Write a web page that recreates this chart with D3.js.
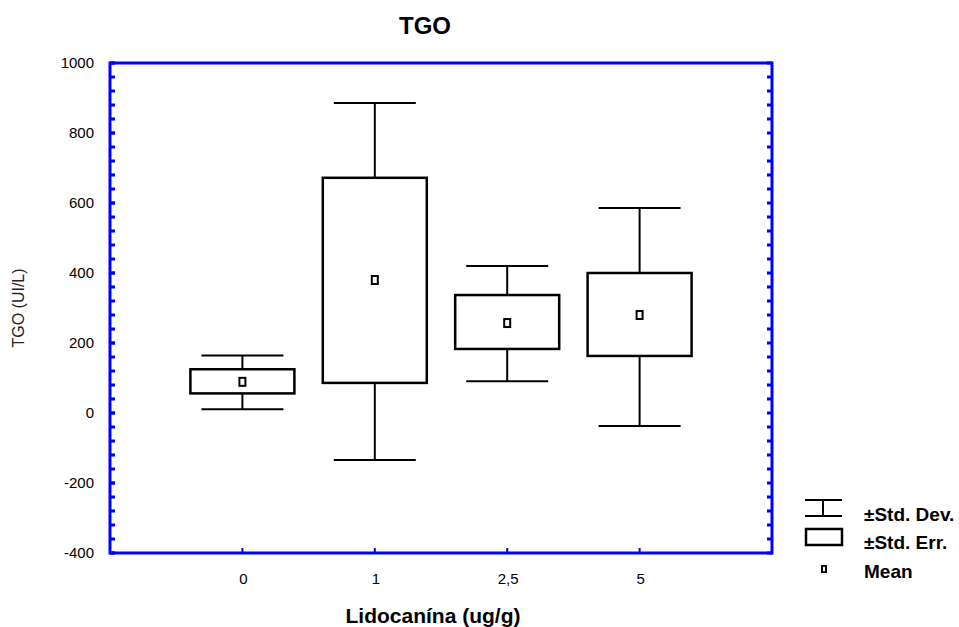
<!DOCTYPE html>
<html><head><meta charset="utf-8">
<script src="https://cdn.jsdelivr.net/npm/d3@7/dist/d3.min.js"></script>
<style>body{margin:0;background:#fff;} text{font-family:"Liberation Sans",Arial,sans-serif;}</style>
</head><body>
<svg id="c" width="959" height="627"></svg>
<script>
const categories = ["0", "1", "2,5", "5"];
const means   = [89, 380, 257, 280];
const seLow   = [56, 86, 183, 163];
const seHigh  = [125, 672, 337, 400];
const sdLow   = [11, -134, 91, -37];
const sdHigh  = [164, 886, 420, 586];
const yTicks  = [-400, -200, 0, 200, 400, 600, 800, 1000];

const svg = d3.select("#c");
const L = 110, R = 772, T = 63, B = 553;
const x = d3.scalePoint().domain(categories).range([L, R]).padding(1);
const y = d3.scaleLinear().domain([-400, 1000]).range([B, T]);

const data = categories.map((c, i) => ({c, m: means[i], sl: seLow[i], sh: seHigh[i], dl: sdLow[i], dh: sdHigh[i]}));

const g = svg.append("g");
const boxHalf = 52, capHalf = 41;
data.forEach(d => {
  const cx = x(d.c);
  g.append("line").attr("x1", cx).attr("x2", cx).attr("y1", y(d.dh)).attr("y2", y(d.sh)).attr("stroke", "#000").attr("stroke-width", 2);
  g.append("line").attr("x1", cx).attr("x2", cx).attr("y1", y(d.sl)).attr("y2", y(d.dl)).attr("stroke", "#000").attr("stroke-width", 2);
  g.append("line").attr("x1", cx - capHalf).attr("x2", cx + capHalf).attr("y1", y(d.dh)).attr("y2", y(d.dh)).attr("stroke", "#000").attr("stroke-width", 2);
  g.append("line").attr("x1", cx - capHalf).attr("x2", cx + capHalf).attr("y1", y(d.dl)).attr("y2", y(d.dl)).attr("stroke", "#000").attr("stroke-width", 2);
  g.append("rect").attr("x", cx - boxHalf).attr("width", 2 * boxHalf).attr("y", y(d.sh)).attr("height", y(d.sl) - y(d.sh)).attr("fill", "#fff").attr("stroke", "#000").attr("stroke-width", 2.5);
  g.append("rect").attr("x", cx - 3).attr("width", 6).attr("y", y(d.m) - 4).attr("height", 8).attr("fill", "#fff").attr("stroke", "#000").attr("stroke-width", 2);
});

// frame
const blue = "#0000ff";
svg.append("rect").attr("x", L).attr("y", T).attr("width", R - L).attr("height", B - T).attr("fill", "none").attr("stroke", blue).attr("stroke-width", 3);

// y axis ticks (minor every 40, inward) left and right
const minor = d3.range(-400, 1001, 40);
minor.forEach(v => {
  svg.append("line").attr("x1", L).attr("x2", L + 5).attr("y1", y(v)).attr("y2", y(v)).attr("stroke", blue).attr("stroke-width", 3);
  svg.append("line").attr("x1", R - 5).attr("x2", R).attr("y1", y(v)).attr("y2", y(v)).attr("stroke", blue).attr("stroke-width", 3);
});
yTicks.forEach(v => {
  svg.append("line").attr("x1", L).attr("x2", L + 5).attr("y1", y(v)).attr("y2", y(v)).attr("stroke", blue).attr("stroke-width", 3);
  svg.append("text").attr("x", 94).attr("y", y(v) + 5).attr("text-anchor", "end").attr("font-size", 15).attr("fill", "#000").text(v);
});
// x ticks
categories.forEach(c => {
  svg.append("line").attr("x1", x(c)).attr("x2", x(c)).attr("y1", B).attr("y2", B - 5).attr("stroke", blue).attr("stroke-width", 2);
  svg.append("text").attr("x", x(c) + 1).attr("y", 584).attr("text-anchor", "middle").attr("font-size", 15).attr("fill", "#000").text(c);
});

// titles
svg.append("text").attr("x", 425).attr("y", 34).attr("text-anchor", "middle").attr("font-size", 24).attr("font-weight", "bold").text("TGO");
svg.append("text").attr("x", 433).attr("y", 623).attr("text-anchor", "middle").attr("font-size", 21).attr("font-weight", "bold").text("Lidocanína (ug/g)");
svg.append("text").attr("transform", "translate(24," + ((T + B) / 2) + ") rotate(-90)").attr("text-anchor", "middle").attr("font-size", 16).attr("fill", "#222").text("TGO (UI/L)");

// legend
const lg = svg.append("g");
lg.append("line").attr("x1", 805).attr("x2", 842).attr("y1", 500).attr("y2", 500).attr("stroke", "#000").attr("stroke-width", 2);
lg.append("line").attr("x1", 805).attr("x2", 842).attr("y1", 516).attr("y2", 516).attr("stroke", "#000").attr("stroke-width", 2);
lg.append("line").attr("x1", 823).attr("x2", 823).attr("y1", 500).attr("y2", 516).attr("stroke", "#000").attr("stroke-width", 2);
lg.append("rect").attr("x", 806).attr("y", 529).attr("width", 36).attr("height", 16).attr("fill", "#fff").attr("stroke", "#000").attr("stroke-width", 2.5);
lg.append("rect").attr("x", 822).attr("y", 566).attr("width", 4).attr("height", 6).attr("fill", "#fff").attr("stroke", "#000").attr("stroke-width", 2);
const lt = ["±Std. Dev.", "±Std. Err.", "Mean"], ly = [521, 549, 578];
lt.forEach((t, i) => lg.append("text").attr("x", 864).attr("y", ly[i]).attr("font-size", 19).attr("font-weight", "bold").text(t));
</script>
</body></html>
